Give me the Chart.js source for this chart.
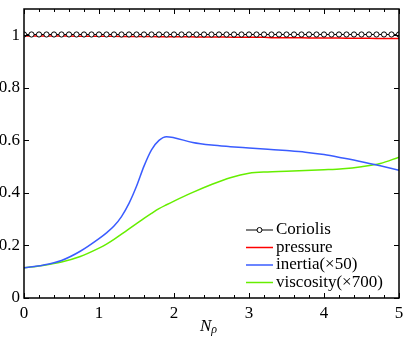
<!DOCTYPE html>
<html>
<head>
<meta charset="utf-8">
<script src="https://cdn.jsdelivr.net/npm/chart.js@4"></script>
<style>
  html, body { margin: 0; padding: 0; background: #fff; }
  #wrap { width: 409px; height: 341px; }
</style>
</head>
<body>
<div id="wrap"><canvas id="canvas" width="409" height="341"></canvas></div>
<script>
// N_rho sample points (0.1 step) for the dense Coriolis/pressure lines
let nRho = [0,0.1,0.2,0.3,0.4,0.5,0.6,0.7,0.8,0.9,1,1.1,1.2,1.3,1.4,1.5,1.6,1.7,1.8,1.9,2,
    2.1,2.2,2.3,2.4,2.5,2.6,2.7,2.8,2.9,3,3.1,3.2,3.3,3.4,3.5,3.6,3.7,3.8,3.9,4,
    4.1,4.2,4.3,4.4,4.5,4.6,4.7,4.8,4.9,5];
let coriolis = [1.003,1.003,1.003,1.003,1.003,1.003,1.003,1.003,1.003,1.003,1.003,
    1.003,1.003,1.003,1.003,1.003,1.003,1.003,1.003,1.003,1.003,
    1.003,1.003,1.003,1.003,1.003,1.003,1.003,1.003,1.003,1.003,
    1.003,1.003,1.003,1.003,1.003,1.003,1.003,1.003,1.003,1.003,
    1.003,1.003,1.003,1.003,1.003,1.003,1.003,1.003,1.003,1.003];
let pressure = [0.997,0.997,0.997,0.997,0.997,0.997,0.997,0.996,0.996,0.996,0.996,
    0.996,0.996,0.995,0.995,0.995,0.995,0.995,0.994,0.994,0.994,
    0.994,0.994,0.993,0.993,0.993,0.993,0.993,0.992,0.992,0.992,
    0.992,0.992,0.991,0.991,0.991,0.991,0.991,0.990,0.990,0.990,
    0.990,0.990,0.989,0.989,0.989,0.989,0.988,0.988,0.988,0.988];

// scaled curves
let nRhoCurve = [0,0.25,0.5,0.75,1,1.1,1.2,1.3,1.4,1.5,1.6,1.7,1.8,1.9,2,2.25,2.5,2.75,3,3.25,3.5,3.75,4,4.25,4.5,4.75,5];
let inertia = [0.115,0.125,0.143,0.178,0.226,0.248,0.274,0.31,0.36,0.425,0.502,0.564,0.6,0.614,0.61,0.592,0.582,0.576,0.571,0.566,0.561,0.555,0.546,0.533,0.519,0.503,0.486];
let viscosity = [0.115,0.124,0.137,0.158,0.19,0.205,0.223,0.243,0.263,0.283,0.303,0.322,0.34,0.355,0.369,0.402,0.432,0.458,0.475,0.48,0.482,0.485,0.488,0.492,0.5,0.512,0.536];

let xTicks = [0,1,2,3,4,5];
let yTicks = [0,0.2,0.4,0.6,0.8,1];

let legendItems = ['Coriolis', 'pressure', 'inertia(\u00d750)', 'viscosity(\u00d7700)'];
let colors = ['#000000', '#ff0000', '#3a5cff', '#66ee00'];

const serif = "'Liberation Serif', 'Times New Roman', Times, serif";

let toPts = (xs, ys) => xs.map((x, i) => ({x: x, y: ys[i]}));

// frame, inward ticks, legend and axis title
let framePlugin = {
    id: 'frame',
    afterDraw(chart) {
        let ctx = chart.ctx;
        let a = chart.chartArea;
        let xs = chart.scales.x;
        let ys = chart.scales.y;
        ctx.save();
        ctx.strokeStyle = '#000';
        ctx.lineWidth = 1;
        ctx.beginPath();
        // x ticks: minor every 0.2, major at integers, bottom and top
        for (let k = 0; k <= 25; k++) {
            let v = k * 0.2;
            let px = Math.round(xs.getPixelForValue(v)) + 0.5;
            let len = (k % 5 === 0) ? 5 : 3;
            ctx.moveTo(px, a.bottom);
            ctx.lineTo(px, a.bottom - len);
            ctx.moveTo(px, a.top);
            ctx.lineTo(px, a.top + len);
        }
        yTicks.forEach(v => {
            let py = Math.round(ys.getPixelForValue(v)) + 0.5;
            ctx.moveTo(a.left, py);
            ctx.lineTo(a.left + 5, py);
            ctx.moveTo(a.right, py);
            ctx.lineTo(a.right - 5, py);
        });
        ctx.stroke();
        ctx.lineWidth = 1.5;
        ctx.strokeRect(a.left, a.top, a.right - a.left, a.bottom - a.top);

        // legend
        let lx0 = 246, lx1 = 273, tx = 276;
        let rowY = [230, 247.5, 265, 282.5];
        ctx.font = '17px ' + serif;
        ctx.textBaseline = 'middle';
        ctx.textAlign = 'left';
        legendItems.forEach((label, i) => {
            let y = rowY[i];
            ctx.strokeStyle = colors[i];
            ctx.lineWidth = i === 0 ? 1 : 1.5;
            ctx.beginPath();
            ctx.moveTo(lx0, y);
            ctx.lineTo(lx1, y);
            ctx.stroke();
            if (i === 0) {
                ctx.fillStyle = '#fff';
                ctx.beginPath();
                ctx.arc((lx0 + lx1) / 2, y, 2.5, 0, Math.PI * 2);
                ctx.fill();
                ctx.stroke();
            }
            ctx.fillStyle = '#000';
            ctx.fillText(label, tx, y);
        });

        // x axis title N_rho
        ctx.fillStyle = '#000';
        ctx.font = 'italic 17px ' + serif;
        ctx.textBaseline = 'alphabetic';
        let cx = 200;
        ctx.fillText('N', cx, 331);
        let nw = ctx.measureText('N').width;
        ctx.font = 'italic 12px ' + serif;
        ctx.fillText('\u03c1', cx + nw, 333);
        ctx.restore();
    }
};

let ctx = document.getElementById('canvas').getContext('2d');

let myChart = new Chart(ctx, {
    type: 'line',
    data: {
        datasets: [{
            label: legendItems[0],
            data: toPts(nRho, coriolis),
            borderColor: colors[0],
            borderWidth: 1,
            pointRadius: 2.6,
            pointBorderWidth: 1,
            pointBorderColor: '#000',
            pointBackgroundColor: '#fff',
            tension: 0,
        }, {
            label: legendItems[1],
            data: toPts(nRho, pressure),
            borderColor: colors[1],
            borderWidth: 1.5,
            pointRadius: 0,
            tension: 0,
        }, {
            label: legendItems[2],
            data: toPts(nRhoCurve, inertia),
            borderColor: colors[2],
            borderWidth: 1.5,
            pointRadius: 0,
            cubicInterpolationMode: 'monotone',
        }, {
            label: legendItems[3],
            data: toPts(nRhoCurve, viscosity),
            borderColor: colors[3],
            borderWidth: 1.5,
            pointRadius: 0,
            cubicInterpolationMode: 'monotone',
        }],
    },
    options: {
        responsive: false,
        animation: false,
        events: [],
        layout: { padding: { top: 9, right: 10, left: 0, bottom: 0 } },
        plugins: {
            legend: { display: false },
            tooltip: { enabled: false },
        },
        scales: {
            x: {
                type: 'linear',
                min: 0,
                max: 5,
                afterBuildTicks: scale => { scale.ticks = xTicks.map(v => ({value: v})); },
                afterFit: scale => {
                    scale.height = 43;
                    scale.paddingLeft = 0;
                    scale.paddingRight = 0;
                },
                ticks: {
                    font: { family: serif, size: 17 },
                    color: '#000',
                    padding: 5,
                    maxRotation: 0,
                    callback: v => String(v),
                },
                grid: { display: false, drawTicks: false },
                border: { display: false },
            },
            y: {
                min: 0,
                max: 1.1,
                afterBuildTicks: scale => { scale.ticks = yTicks.map(v => ({value: v})); },
                afterFit: scale => {
                    scale.width = 24;
                    scale.paddingTop = 0;
                    scale.paddingBottom = 0;
                },
                ticks: {
                    font: { family: serif, size: 17 },
                    color: '#000',
                    padding: 4,
                    callback: v => (v === 0 ? '0' : v === 1 ? '1' : v.toFixed(1)),
                },
                grid: { display: false, drawTicks: false },
                border: { display: false },
            },
        },
    },
    plugins: [framePlugin],
});
</script>
</body>
</html>
